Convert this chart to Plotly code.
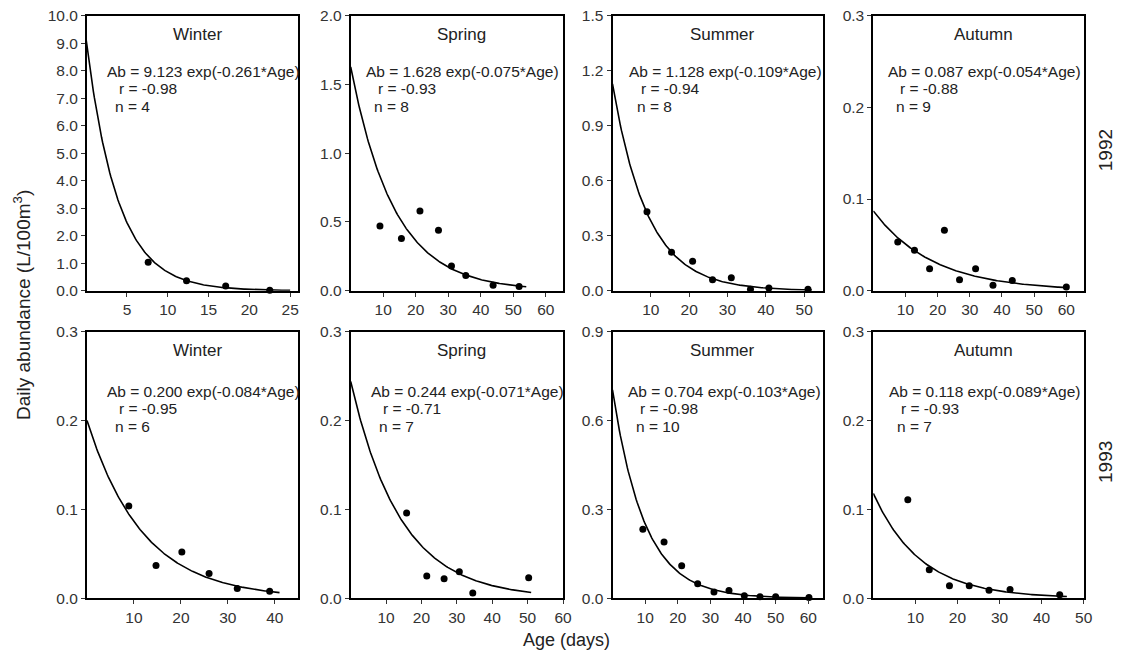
import plotly.graph_objects as go
import numpy as np

# ---------------- data ----------------
panel_season = ["Winter", "Spring", "Summer", "Autumn", "Winter", "Spring", "Summer", "Autumn"]
row_years = ["1992", "1993"]

w92_age = [7.6, 12.3, 17.1, 22.5]
w92_ab = [1.03, 0.36, 0.17, 0.02]
sp92_age = [9.0, 15.6, 21.3, 27.0, 31.0, 35.4, 43.8, 51.8]
sp92_ab = [0.47, 0.38, 0.58, 0.44, 0.18, 0.11, 0.04, 0.03]
su92_age = [9.0, 15.4, 20.9, 26.1, 31.0, 36.0, 40.8, 51.0]
su92_ab = [0.43, 0.21, 0.16, 0.06, 0.07, 0.008, 0.015, 0.008]
au92_age = [7.6, 12.8, 17.5, 22.1, 26.8, 31.8, 37.2, 43.2, 60.0]
au92_ab = [0.053, 0.044, 0.024, 0.066, 0.012, 0.024, 0.006, 0.011, 0.004]

w93_age = [8.9, 14.7, 20.2, 26.0, 32.0, 38.9]
w93_ab = [0.104, 0.037, 0.052, 0.028, 0.011, 0.008]
sp93_age = [15.8, 21.5, 26.4, 30.7, 34.5, 50.3]
sp93_ab = [0.096, 0.025, 0.022, 0.030, 0.006, 0.023]
su93_age = [9.3, 15.8, 21.2, 26.1, 31.1, 35.7, 40.4, 45.2, 50.0, 60.2]
su93_ab = [0.233, 0.19, 0.11, 0.049, 0.021, 0.026, 0.009, 0.005, 0.005, 0.003]
au93_age = [8.2, 13.3, 18.1, 22.8, 27.5, 32.5, 44.3]
au93_ab = [0.111, 0.032, 0.014, 0.014, 0.009, 0.010, 0.004]

# fitted model printed in each panel: Ab = a * exp(b * Age)
fit_a = [9.123, 1.628, 1.128, 0.087, 0.200, 0.244, 0.704, 0.118]
fit_b = [-0.261, -0.075, -0.109, -0.054, -0.084, -0.071, -0.103, -0.089]
fit_r = ["-0.98", "-0.93", "-0.94", "-0.88", "-0.95", "-0.71", "-0.98", "-0.93"]
fit_n = [4, 8, 8, 9, 6, 7, 10, 7]
fit_xmax = [25, 54, 52, 60, 41, 51, 60, 46]

x_ranges = [[0.1, 26], [0, 65.3], [0, 55], [0, 65.4], [0, 45], [0, 60], [0, 64.6], [0, 50]]
y_ranges = [[0, 10], [0, 2], [0, 1.5], [0, 0.3], [0, 0.3], [0, 0.3], [0, 0.9], [0, 0.3]]
x_tickvals = [[5, 10, 15, 20, 25], [10, 20, 30, 40, 50, 60], [10, 20, 30, 40, 50],
              [10, 20, 30, 40, 50, 60], [10, 20, 30, 40], [10, 20, 30, 40, 50, 60],
              [10, 20, 30, 40, 50, 60], [10, 20, 30, 40, 50]]
y_dtick = [1, 0.5, 0.3, 0.1, 0.1, 0.1, 0.3, 0.1]

ages = [w92_age, sp92_age, su92_age, au92_age, w93_age, sp93_age, su93_age, au93_age]
abund = [w92_ab, sp92_ab, su92_ab, au92_ab, w93_ab, sp93_ab, su93_ab, au93_ab]

# ---------------- layout geometry ----------------
# the page body has the browser's default 8px margin, so the figure is
# made 8px smaller and every target pixel position is shifted by 8px
OFF = 8
W, H = 1121 - OFF, 657 - OFF
col_px = [(87, 298.3), (350.7, 563), (612.5, 823.3), (873.3, 1083.7)]
row_px = [(15.7, 290.7), (331.7, 598.3)]
eq_left = [18, 13, 14, 13, 18, 18, 13.5, 13.4]
FONT = "Liberation Sans, Arial, sans-serif"


def px_x(p):
    return (p - OFF) / W


def px_y(p):
    return 1 - (p - OFF) / H


fig = go.Figure()
layout = dict(
    template="none",
    width=W, height=H, margin=dict(l=0, r=0, t=0, b=0, pad=0), autosize=False,
    paper_bgcolor="white", plot_bgcolor="white", showlegend=False,
    font=dict(family=FONT, color="#222", size=15),
)
annotations = []

for i in range(8):
    r, c = divmod(i, 4)
    k = i + 1
    xa = "xaxis" if k == 1 else f"xaxis{k}"
    ya = "yaxis" if k == 1 else f"yaxis{k}"
    xr = "x" if k == 1 else f"x{k}"
    yr = "y" if k == 1 else f"y{k}"
    x0, x1 = col_px[c]
    y0, y1 = row_px[r]
    common = dict(showgrid=False, zeroline=False, showline=True, linecolor="black",
                  linewidth=2, mirror=True, ticks="outside", ticklen=4, tickwidth=1.3,
                  tickcolor="#333", automargin=False, ticklabeloverflow="allow",
                  tickfont=dict(family=FONT, size=15.5, color="#333"))
    layout[xa] = dict(domain=[px_x(x0), px_x(x1)], anchor=yr, range=x_ranges[i],
                      tickmode="array", tickvals=x_tickvals[i], **common)
    layout[ya] = dict(domain=[px_y(y1), px_y(y0)], anchor=xr, range=y_ranges[i],
                      tick0=0, dtick=y_dtick[i], tickformat=".1f", **common)

    xs = np.linspace(0, fit_xmax[i], 200)
    fig.add_trace(go.Scatter(x=xs, y=fit_a[i] * np.exp(fit_b[i] * xs), mode="lines",
                             line=dict(color="black", width=1.6), xaxis=xr, yaxis=yr,
                             hoverinfo="skip", cliponaxis=True))
    fig.add_trace(go.Scatter(x=ages[i], y=abund[i], mode="markers",
                             marker=dict(color="black", size=7), xaxis=xr, yaxis=yr,
                             cliponaxis=False))

    top_eq = -56 if r == 0 else -60
    annotations.append(dict(text=panel_season[i], xref=f"{xr} domain", yref=f"{yr} domain",
                            x=0.5, y=1, xshift=5, yshift=-19, xanchor="center",
                            yanchor="middle", showarrow=False,
                            font=dict(size=17, family=FONT, color="#222")))
    eq = f"Ab = {fit_a[i]:.3f} exp({fit_b[i]:.3f}*Age)"
    lines = [(eq, eq_left[i], top_eq), (f"r = {fit_r[i]}", eq_left[i] + 12, top_eq - 17),
             (f"n = {fit_n[i]}", eq_left[i] + 8, top_eq - 35)]
    for txt, dx, dy in lines:
        annotations.append(dict(text=txt, xref=f"{xr} domain", yref=f"{yr} domain",
                                x=0, y=1, xshift=dx, yshift=dy, xanchor="left",
                                yanchor="middle", showarrow=False,
                                font=dict(size=15.5, family=FONT, color="#222")))

# shared axis titles and row labels
annotations.append(dict(text="Daily abundance (L/100m<sup>3</sup>)", xref="paper", yref="paper",
                        x=px_x(22), y=px_y(305), textangle=-90, showarrow=False,
                        xanchor="center", yanchor="middle",
                        font=dict(size=19, family=FONT, color="#222")))
annotations.append(dict(text="Age (days)", xref="paper", yref="paper",
                        x=px_x(566), y=px_y(640), showarrow=False,
                        xanchor="center", yanchor="middle",
                        font=dict(size=18, family=FONT, color="#222")))
for j, yr_lbl in enumerate(row_years):
    yc = (row_px[j][0] + row_px[j][1]) / 2
    annotations.append(dict(text=yr_lbl, xref="paper", yref="paper",
                            x=px_x(1105), y=px_y(yc - 3), textangle=-90, showarrow=False,
                            xanchor="center", yanchor="middle",
                            font=dict(size=19, family=FONT, color="#222")))

layout["annotations"] = annotations
fig.update_layout(**layout)
fig.write_html("out.html")
